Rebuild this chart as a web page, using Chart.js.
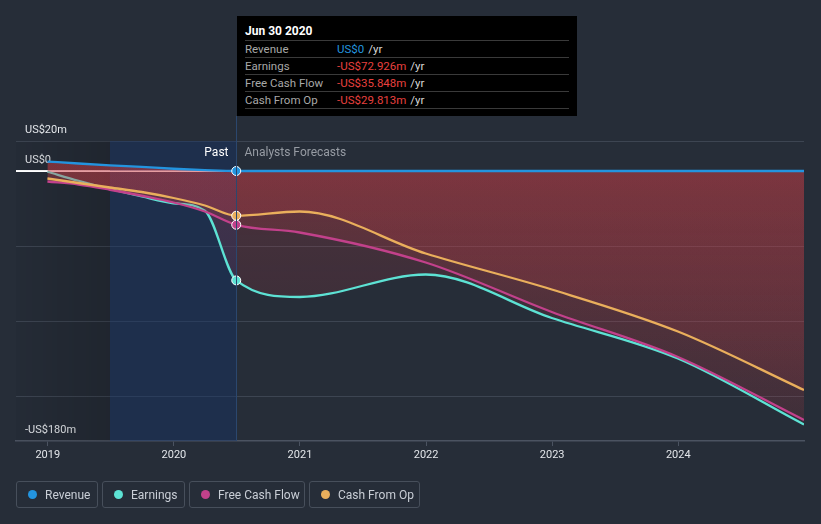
<!DOCTYPE html>
<html>
<head>
<meta charset="utf-8">
<script src="https://cdn.jsdelivr.net/npm/chart.js@4.4.1/dist/chart.umd.min.js"></script>
<style>
  html, body { margin: 0; padding: 0; background: #262d38; }
  body { width: 821px; height: 524px; position: relative; overflow: hidden; font-family: Roboto, "Noto Sans", sans-serif; }
  #wrap { position: absolute; left: 0; top: 0; width: 821px; height: 524px; }
  #tip { position: absolute; left: 237px; top: 16px; width: 340px; height: 100px; background: #000; box-sizing: border-box; padding: 7px 8px 0 8px; }
  #tip .t { color: #fff; font-weight: bold; font-size: 12px; height: 17px; line-height: 17px; border-bottom: 1px solid #3a3a3a; }
  #tip .r { height: 16px; line-height: 16px; font-size: 11.5px; border-bottom: 1px solid #3a3a3a; display: flex; }
  #tip .r .l { color: #a8a8a8; width: 92px; }
  #tip .r .yr { color: #d8d8d8; margin-left: 4px; }
  #legend { position: absolute; left: 16px; top: 481px; display: flex; gap: 4px; }
  .lg { box-sizing: border-box; height: 27px; border: 1px solid #474f5b; border-radius: 3px; display: flex; align-items: center; padding: 0 0 0 11px; color: #c9ced6; font-size: 12px; white-space: nowrap; }
  .lg:nth-child(1) { width: 82px; }
  .lg:nth-child(2) { width: 83px; }
  .lg:nth-child(3) { width: 116px; }
  .lg:nth-child(4) { width: 111px; }
  .lg .d { width: 9px; height: 9px; border-radius: 50%; margin-right: 8px; flex: none; }
</style>
</head>
<body>
<div id="wrap"><canvas id="c" width="821" height="524"></canvas></div>
<div id="tip"></div>
<div id="legend"></div>
<script>
// ---- data ----
const dates = ["2018-12-31","2019-03-31","2019-06-30","2019-09-30","2019-12-31","2020-03-31","2020-06-30",
               "2020-12-31","2021-12-31","2022-12-31","2023-12-31","2024-12-31"];
const revenue  = [6.3, 5.0, 3.8, 2.7, 1.5, 0.6, 0, 0, 0, 0, 0, 0];
const earnings = [-0.5, -6.5, -12, -17, -21.5, -26.5, -72.926, -84, -69, -98, -125, -169];
const fcf      = [-7, -9, -12.5, -16.5, -21, -27, -35.848, -41, -61, -94, -124, -166];
const cfo      = [-5, -8, -11, -14, -18, -23, -29.813, -27, -55, -79, -107, -146];
const seriesNames  = ["Revenue", "Earnings", "Free Cash Flow", "Cash From Op"];
const seriesColors = ["#2394df", "#5de2d4", "#c2418b", "#eaaf5c"];
const yTickValues = [20, 0, -50, -100, -150, -180];
const yTickLabels = ["US$20m", "US$0", "", "", "", "-US$180m"];
const xTickValues = [2019, 2020, 2021, 2022, 2023, 2024];
const xTickLabels = ["2019", "2020", "2021", "2022", "2023", "2024"];
const xMinDate = "2018-10-01";
const pastStartDate = "2019-06-30";
const pastEndIndex = 6;
const pastLabel = "Past";
const forecastLabel = "Analysts Forecasts";
const tipTitle = "Jun 30 2020";
const tipValues = ["US$0", "-US$72.926m", "-US$35.848m", "-US$29.813m"];
const tipUnit = "/yr";

// ---- helpers ----
function toYear(s) {
  const [y, m, d] = s.split("-").map(Number);
  const start = Date.UTC(y, 0, 1), end = Date.UTC(y + 1, 0, 1);
  return y + (Date.UTC(y, m - 1, d) - start) / (end - start);
}
const xs = dates.map(toYear);
const pts = arr => arr.map((v, i) => ({ x: xs[i], y: v }));

// tooltip + legend
(function () {
  const tip = document.getElementById("tip");
  let h = '<div class="t">' + tipTitle + '</div>';
  seriesNames.forEach((n, i) => {
    const col = tipValues[i].startsWith("-") ? "#e8403f" : "#2394df";
    h += '<div class="r"><span class="l">' + n + '</span><span style="color:' + col + '">' + tipValues[i] +
         '</span><span class="yr">' + tipUnit + '</span></div>';
  });
  tip.innerHTML = h;
  const lg = document.getElementById("legend");
  seriesNames.forEach((n, i) => {
    const d = document.createElement("div");
    d.className = "lg";
    d.innerHTML = '<span class="d" style="background:' + seriesColors[i] + '"></span>' + n;
    lg.appendChild(d);
  });
})();

function fillGrad(ctx) {
  const chart = ctx.chart, ca = chart.chartArea;
  if (!ca) return "rgba(200,64,69,0.15)";
  const y0 = chart.scales.y.getPixelForValue(0);
  const g = chart.ctx.createLinearGradient(0, y0, 0, ca.bottom);
  g.addColorStop(0, "rgba(205,62,70,0.21)");
  g.addColorStop(1, "rgba(205,62,70,0.07)");
  return g;
}

const ptRadius = c => (c.dataIndex === pastEndIndex ? 4.5 : 0);

function ds(name, data, color, order, fill) {
  return {
    label: name, data: pts(data), borderColor: color, borderWidth: 2.3,
    backgroundColor: fill ? fillGrad : "transparent", fill: fill ? 0 : false,
    cubicInterpolationMode: "monotone", order: order,
    pointRadius: ptRadius, pointBackgroundColor: color, pointBorderColor: "#ffffff", pointBorderWidth: 1,
    pointHoverRadius: 0
  };
}

const bgPlugin = {
  id: "bands",
  beforeDatasetsDraw(chart) {
    const { ctx, chartArea: ca, scales } = chart;
    const xs0 = scales.x.getPixelForValue(toYear(pastStartDate));
    const xe = scales.x.getPixelForValue(xs[pastEndIndex]);
    ctx.save();
    const g = ctx.createLinearGradient(ca.left, 0, xs0, 0);
    g.addColorStop(0, "rgba(0,0,0,0.03)");
    g.addColorStop(1, "rgba(0,0,0,0.16)");
    ctx.fillStyle = g;
    ctx.fillRect(ca.left, ca.top, xs0 - ca.left, ca.bottom - ca.top);
    ctx.fillStyle = "rgba(20,50,105,0.42)";
    ctx.fillRect(xs0, ca.top, xe - xs0, ca.bottom - ca.top);
    const y0 = scales.y.getPixelForValue(0);
    ctx.strokeStyle = "#ffffff"; ctx.lineWidth = 1.2;
    ctx.beginPath(); ctx.moveTo(ca.left, y0 + 0.5); ctx.lineTo(ca.right, y0 + 0.5); ctx.stroke();
    ctx.restore();
  },
  afterDatasetsDraw(chart) {
    const { ctx, chartArea: ca, scales } = chart;
    const xe = Math.round(scales.x.getPixelForValue(xs[pastEndIndex])) + 0.5;
    ctx.save();
    ctx.strokeStyle = "#2b476e"; ctx.lineWidth = 1;
    ctx.beginPath(); ctx.moveTo(xe, 116); ctx.lineTo(xe, ca.bottom); ctx.stroke();
    ctx.font = "12px Roboto, 'Noto Sans', sans-serif";
    ctx.textBaseline = "middle";
    ctx.textAlign = "right"; ctx.fillStyle = "#ffffff";
    ctx.fillText(pastLabel, xe - 8, 153);
    ctx.textAlign = "left"; ctx.fillStyle = "#979ca4";
    ctx.fillText(forecastLabel, xe + 8, 153);
    ctx.restore();
  }
};

new Chart(document.getElementById("c"), {
  type: "line",
  data: {
    datasets: [
      ds(seriesNames[0], revenue, seriesColors[0], 0, false),
      ds(seriesNames[1], earnings, seriesColors[1], 3, true),
      ds(seriesNames[2], fcf, seriesColors[2], 2, true),
      ds(seriesNames[3], cfo, seriesColors[3], 1, true)
    ]
  },
  options: {
    responsive: false, animation: false, events: [],
    layout: { padding: { left: 16, right: 17, top: 141, bottom: 0 } },
    plugins: { legend: { display: false }, tooltip: { enabled: false } },
    scales: {
      x: {
        type: "linear", min: toYear(xMinDate), max: xs[xs.length - 1],
        afterBuildTicks: s => { s.ticks = xTickValues.map(v => ({ value: v })); },
        afterFit: s => { s.height = 83; },
        ticks: {
          callback: (v) => { const i = xTickValues.indexOf(v); return i >= 0 ? xTickLabels[i] : ""; },
          color: "#e3e6ea", font: { size: 11, family: "Roboto" }, padding: 3, maxRotation: 0, autoSkip: false
        },
        grid: { display: true, drawOnChartArea: false, drawTicks: true, tickLength: 5, color: "#4b5361" },
        border: { display: true, color: "#4b5361", width: 1.5 }
      },
      y: {
        type: "linear", min: -180, max: 20,
        afterBuildTicks: s => { s.ticks = yTickValues.map(v => ({ value: v })); },
        afterFit: s => { s.width = 0; },
        ticks: {
          mirror: true, padding: 9, labelOffset: -11,
          callback: (v) => { const i = yTickValues.indexOf(v); return i >= 0 ? yTickLabels[i] : ""; },
          color: "#e3e6ea", font: { size: 11, family: "Roboto" }
        },
        grid: {
          drawTicks: false,
          color: c => (c.tick && c.tick.value === 0 ? "#ffffff" : (c.tick && c.tick.value === -180 ? "rgba(0,0,0,0)" : "#3d4552")),
          lineWidth: c => (c.tick && c.tick.value === 0 ? 1.2 : 1)
        },
        border: { display: false }
      }
    }
  },
  plugins: [bgPlugin]
});
</script>
</body>
</html>
